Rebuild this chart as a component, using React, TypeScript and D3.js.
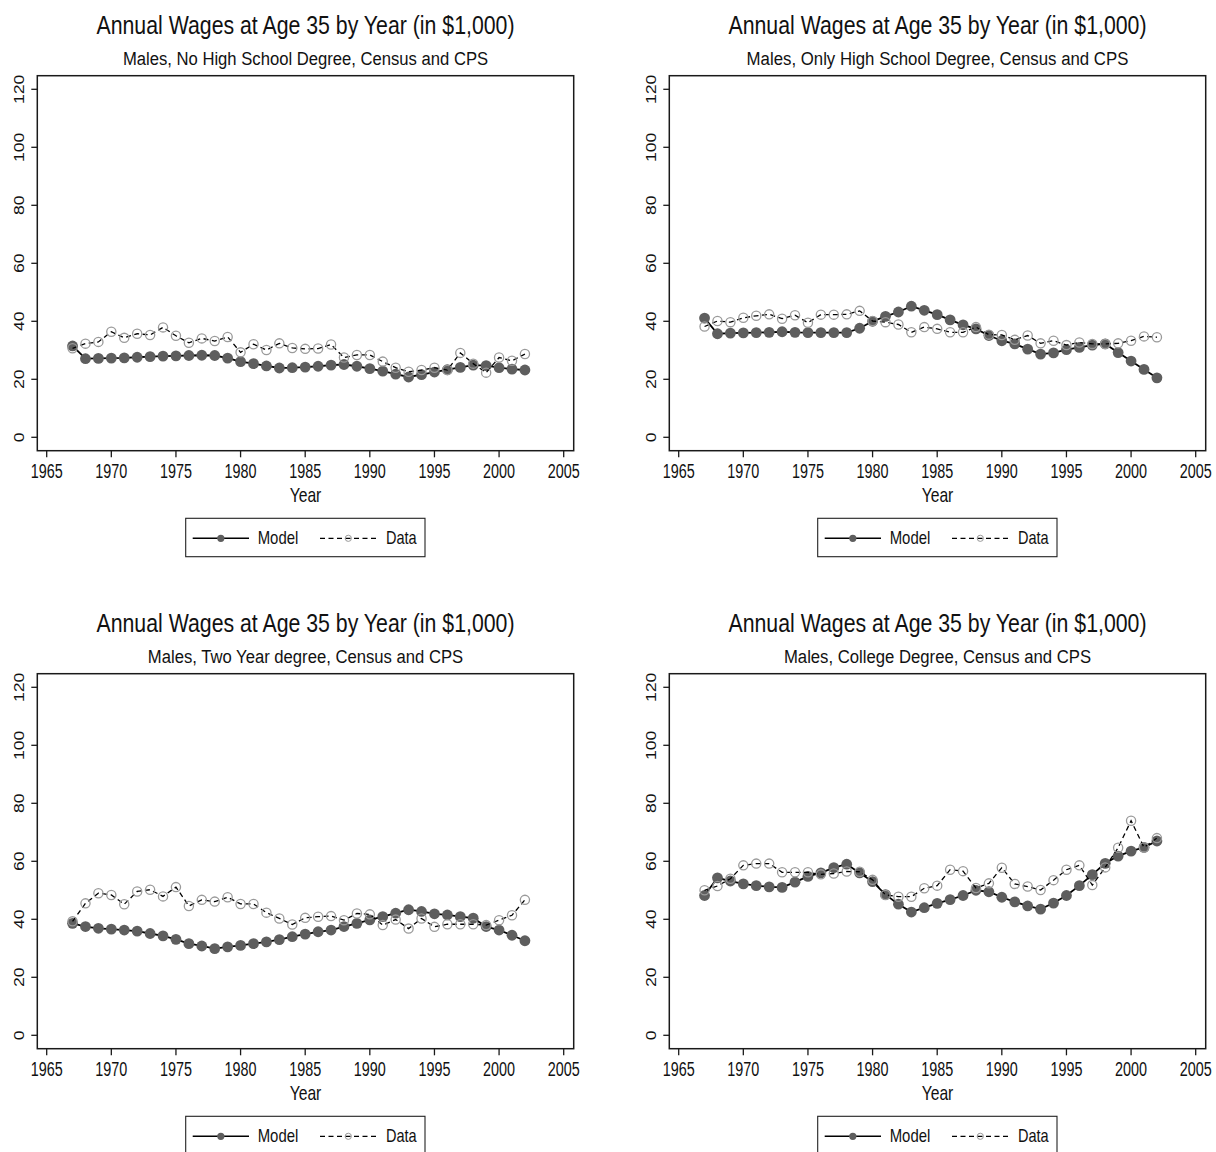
import React from "react";
import * as d3 from "d3";

const years = [1967, 1968, 1969, 1970, 1971, 1972, 1973, 1974, 1975, 1976, 1977, 1978, 1979, 1980, 1981, 1982, 1983, 1984, 1985, 1986, 1987, 1988, 1989, 1990, 1991, 1992, 1993, 1994, 1995, 1996, 1997, 1998, 1999, 2000, 2001, 2002];

const noHsModel = [31.5, 27.1, 27.2, 27.3, 27.4, 27.6, 27.8, 28.0, 28.1, 28.2, 28.3, 28.2, 27.3, 26.1, 25.4, 24.6, 23.9, 24.0, 24.2, 24.5, 24.9, 25.1, 24.5, 23.7, 22.8, 21.8, 20.8, 21.6, 22.5, 23.3, 24.1, 24.9, 24.7, 24.0, 23.5, 23.2];
const noHsData = [30.7, 32.3, 32.9, 36.4, 34.3, 35.7, 35.3, 37.9, 35.0, 32.6, 34.1, 33.2, 34.6, 29.3, 32.1, 30.1, 32.4, 30.8, 30.5, 30.6, 32.0, 27.5, 28.4, 28.4, 26.1, 24.0, 22.6, 23.2, 24.0, 23.2, 29.1, 25.4, 22.3, 27.5, 26.4, 28.7];

const hsModel = [41.1, 35.7, 35.9, 36.0, 36.1, 36.2, 36.4, 36.2, 36.1, 36.1, 36.1, 36.1, 37.6, 40.0, 41.7, 43.2, 45.2, 43.8, 42.3, 40.5, 38.8, 37.4, 35.1, 33.3, 32.2, 30.4, 28.7, 29.1, 30.2, 31.0, 31.8, 32.2, 29.2, 26.3, 23.4, 20.5];
const hsData = [38.2, 40.1, 39.7, 41.2, 41.9, 42.4, 40.9, 42.1, 39.5, 42.3, 42.3, 42.4, 43.6, 40.1, 39.7, 38.9, 36.2, 38.0, 37.4, 36.2, 36.2, 38.0, 35.4, 35.3, 33.6, 35.1, 32.4, 33.3, 31.8, 32.7, 32.2, 32.2, 32.4, 33.3, 34.8, 34.5];

const twoYrModel = [38.6, 37.5, 36.9, 36.6, 36.3, 35.9, 35.1, 34.3, 33.1, 31.6, 30.8, 29.9, 30.5, 31.0, 31.6, 32.2, 33.0, 34.0, 34.9, 35.7, 36.3, 37.5, 38.6, 39.8, 40.9, 42.1, 43.3, 42.7, 41.9, 41.5, 40.9, 40.4, 37.5, 36.3, 34.5, 32.6];
const twoYrData = [39.3, 45.5, 49.0, 48.4, 45.2, 49.6, 50.2, 47.9, 51.1, 44.6, 46.7, 46.1, 47.6, 45.3, 45.3, 42.3, 40.3, 38.2, 40.5, 40.9, 41.1, 39.7, 42.0, 41.7, 38.0, 39.9, 36.8, 40.3, 37.4, 38.3, 38.3, 38.3, 38.0, 39.7, 41.4, 46.7];

const collegeModel = [48.2, 54.3, 53.2, 52.2, 51.6, 51.2, 51.0, 52.8, 54.8, 56.0, 57.8, 59.0, 56.0, 53.0, 48.5, 45.2, 42.5, 44.0, 45.5, 46.8, 48.2, 50.0, 49.5, 47.6, 46.0, 44.6, 43.5, 45.6, 48.2, 51.6, 55.4, 59.3, 61.8, 63.5, 64.8, 67.0];
const collegeData = [50.0, 51.5, 54.0, 58.6, 59.2, 59.2, 56.2, 56.2, 56.2, 55.5, 55.8, 56.5, 56.4, 53.6, 48.4, 47.8, 47.8, 50.7, 51.6, 57.1, 56.6, 50.8, 52.4, 57.8, 52.2, 51.3, 50.1, 53.5, 57.1, 58.6, 51.8, 57.9, 64.7, 74.0, 64.8, 68.0];

const chartTitle = "Annual Wages at Age 35 by Year (in $1,000)";
const subtitles = [
  "Males, No High School Degree, Census and CPS",
  "Males, Only High School Degree, Census and CPS",
  "Males, Two Year degree, Census and CPS",
  "Males, College Degree, Census and CPS",
];
const xTicks = [1965, 1970, 1975, 1980, 1985, 1990, 1995, 2000, 2005];
const yTicks = [0, 20, 40, 60, 80, 100, 120];
const seriesNames = ["Model", "Data"];

const FONT = "'Liberation Sans', Arial, Helvetica, sans-serif";
const MODEL_FILL = "#5e5e5e";
const DATA_STROKE = "#9a9a9a";

const fr = { left: 37.3, right: 573.7, top: 75.7, bottom: 450.7 };

function subtitleLength(s: string) {
  return s.length * 8.3;
}

function Panel({ ox, oy, subtitle, model, data }: { ox: number; oy: number; subtitle: string; model: number[]; data: number[] }) {
  const x = d3.scaleLinear().domain([1965, 2005]).range([46.7, 563.7]);
  const y = d3.scaleLinear().domain([0, 120]).range([437.3, 89.3]);
  const line = d3
    .line<number>()
    .x((_, i) => x(years[i]))
    .y((v) => y(v));
  const cx = (fr.left + fr.right) / 2;
  return (
    <g transform={`translate(${ox},${oy})`}>
      <text x={cx} y={34} fontSize={25} textAnchor="middle" textLength={418} lengthAdjust="spacingAndGlyphs" fill="#111">
        {chartTitle}
      </text>
      <text x={cx} y={65} fontSize={18} textAnchor="middle" textLength={subtitleLength(subtitle)} lengthAdjust="spacingAndGlyphs" fill="#111">
        {subtitle}
      </text>
      <rect x={fr.left} y={fr.top} width={fr.right - fr.left} height={fr.bottom - fr.top} fill="white" stroke="#1a1a1a" strokeWidth={1.5} />
      {yTicks.map((t) => (
        <g key={"y" + t}>
          <line x1={fr.left - 6} x2={fr.left} y1={y(t)} y2={y(t)} stroke="#1a1a1a" strokeWidth={1.3} />
          <text
            transform={`translate(24,${y(t)}) rotate(-90) scale(1,0.74)`}
            fontSize={20}
            textAnchor="middle"
            textLength={String(t).length * 9.8}
            lengthAdjust="spacingAndGlyphs"
            fill="#111"
          >
            {t}
          </text>
        </g>
      ))}
      {xTicks.map((t) => (
        <g key={"x" + t}>
          <line x1={x(t)} x2={x(t)} y1={fr.bottom} y2={fr.bottom + 6.6} stroke="#1a1a1a" strokeWidth={1.3} />
          <text x={x(t)} y={477.7} fontSize={20} textAnchor="middle" textLength={32} lengthAdjust="spacingAndGlyphs" fill="#111">
            {t}
          </text>
        </g>
      ))}
      <text x={cx} y={501.7} fontSize={21} textAnchor="middle" textLength={31.7} lengthAdjust="spacingAndGlyphs" fill="#111">
        Year
      </text>
      <path d={line(model) || ""} fill="none" stroke="#000" strokeWidth={1.8} />
      {model.map((v, i) => (
        <circle key={"m" + i} cx={x(years[i])} cy={y(v)} r={5.4} fill={MODEL_FILL} stroke="none" />
      ))}
      <path d={line(data) || ""} fill="none" stroke="#000" strokeWidth={1.3} strokeDasharray="5,3.5" />
      {data.map((v, i) => (
        <circle key={"d" + i} cx={x(years[i])} cy={y(v)} r={4.6} fill="none" stroke={DATA_STROKE} strokeWidth={1.3} />
      ))}
      <g>
        <rect x={185.7} y={518.3} width={239.3} height={38.4} fill="white" stroke="#222" strokeWidth={1.1} />
        <line x1={192.7} x2={249} y1={538.3} y2={538.3} stroke="#000" strokeWidth={1.6} />
        <circle cx={220.8} cy={538.3} r={3.6} fill={MODEL_FILL} />
        <text x={257.7} y={544.3} fontSize={17.7} textLength={40.6} lengthAdjust="spacingAndGlyphs" fill="#111">
          {seriesNames[0]}
        </text>
        <line x1={320} x2={378.3} y1={538.3} y2={538.3} stroke="#000" strokeWidth={1.2} strokeDasharray="5,3.5" />
        <circle cx={348.3} cy={538.3} r={3.1} fill="none" stroke={DATA_STROKE} strokeWidth={1} />
        <text x={386} y={544.3} fontSize={17.7} textLength={30.7} lengthAdjust="spacingAndGlyphs" fill="#111">
          {seriesNames[1]}
        </text>
      </g>
    </g>
  );
}

export default function App() {
  const panels = [
    { ox: 0, oy: 0, model: noHsModel, data: noHsData },
    { ox: 632, oy: 0, model: hsModel, data: hsData },
    { ox: 0, oy: 598, model: twoYrModel, data: twoYrData },
    { ox: 632, oy: 598, model: collegeModel, data: collegeData },
  ];
  return (
    <svg
      width={1216}
      height={1152}
      viewBox="0 0 1216 1152"
      style={{ position: "absolute", left: 0, top: 0, background: "white", fontFamily: FONT }}
    >
      <rect x={0} y={0} width={1216} height={1152} fill="white" />
      {panels.map((p, i) => (
        <Panel key={i} ox={p.ox} oy={p.oy} subtitle={subtitles[i]} model={p.model} data={p.data} />
      ))}
    </svg>
  );
}
